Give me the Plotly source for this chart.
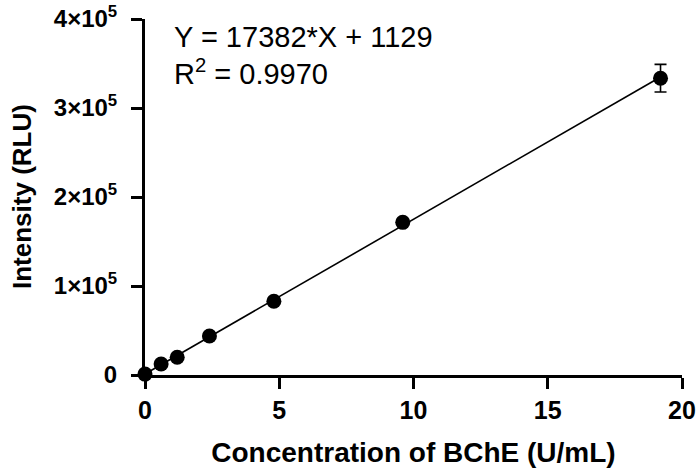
import plotly.graph_objects as go

# Data
conc = [0, 0.6, 1.2, 2.4, 4.8, 9.6, 19.2]
intensity = [1000, 12400, 20000, 43800, 82800, 171500, 333500]
err = [0, 0, 0, 0, 0, 0, 15500]
slope = 17382
intercept = 1129
r2 = "0.9970"
ytick_vals = [0, 100000, 200000, 300000, 400000]
ytick_text = ["0", "1×10<sup>5</sup>", "2×10<sup>5</sup>", "3×10<sup>5</sup>", "4×10<sup>5</sup>"]
xtick_vals = [0, 5, 10, 15, 20]

FONT = "Liberation Sans, Arial, sans-serif"

fit_x = [0, max(conc)]
fit_y = [slope * v + intercept for v in fit_x]

fig = go.Figure()
fig.add_trace(go.Scatter(
    x=fit_x, y=fit_y, mode="lines",
    line=dict(color="black", width=1.6),
    showlegend=False, cliponaxis=False, hoverinfo="skip"))
fig.add_trace(go.Scatter(
    x=conc, y=intensity, mode="markers",
    marker=dict(color="black", size=15),
    error_y=dict(type="data", array=err, color="black", thickness=1.6, width=6, visible=True),
    showlegend=False, cliponaxis=False))

fig.add_annotation(x=1.0, y=380000, xref="x", yref="y", xanchor="left", yanchor="middle",
                   text=f"Y = {slope}*X + {intercept}", showarrow=False,
                   font=dict(family=FONT, size=29, color="black"))
fig.add_annotation(x=1.0, y=340500, xref="x", yref="y", xanchor="left", yanchor="middle",
                   text=f"R<sup>2</sup> = {r2}", showarrow=False,
                   font=dict(family=FONT, size=29, color="black"))
# y-axis title placed as rotated annotation
fig.add_annotation(x=-(145 - 22) / 537, y=0.5, xref="paper", yref="paper",
                   xanchor="center", yanchor="middle", textangle=-90,
                   text="<b>Intensity (RLU)</b>", showarrow=False,
                   font=dict(family=FONT, size=26, color="black"))

fig.update_layout(
    width=699, height=475,
    margin=dict(l=145, r=17, t=19, b=100),
    plot_bgcolor="white", paper_bgcolor="white",
    font=dict(family=FONT, color="black"),
)
fig.update_xaxes(
    range=[0, 20], tickvals=xtick_vals, ticks="outside", ticklen=11, tickwidth=3,
    tickcolor="black", showline=True, linewidth=3, linecolor="black",
    showgrid=False, zeroline=False, automargin=False, ticklabeloverflow="allow",
    tickfont=dict(family=FONT, size=25, color="black", weight="bold"),
    title=dict(text="<b>Concentration of BChE (U/mL)</b>",
               font=dict(family=FONT, size=28, color="black"), standoff=20),
)
fig.update_yaxes(
    range=[0, 400000], tickvals=ytick_vals, ticktext=ytick_text, ticks="outside",
    ticklen=11, tickwidth=3, tickcolor="black", showline=True, linewidth=3,
    linecolor="black", showgrid=False, zeroline=False, automargin=False,
    ticklabeloverflow="allow", ticklabelstandoff=9,
    tickfont=dict(family=FONT, size=24, color="black", weight="bold"),
)

fig.write_html("out.html", config={"displayModeBar": False},
               post_script="document.body.style.margin='0';document.body.style.overflow='hidden';")
